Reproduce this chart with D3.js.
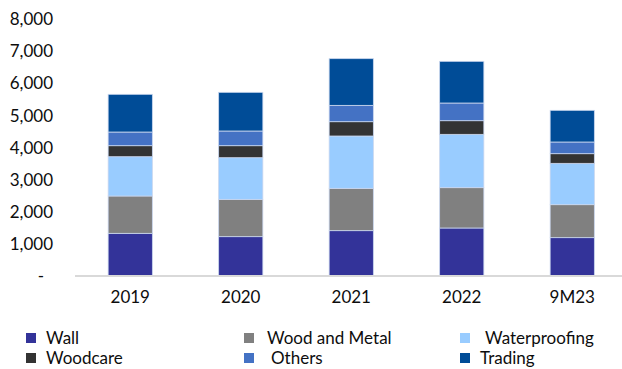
<!DOCTYPE html>
<html>
<head>
<meta charset="utf-8">
<script src="https://cdn.jsdelivr.net/npm/d3@7"></script>
<style>
  html, body { margin: 0; padding: 0; background: #fff; }
  svg { display: block; }
  text { font-family: "Lato", "Open Sans", sans-serif; fill: #0d0d0d; }
</style>
</head>
<body>
<svg id="chart" width="622" height="369"></svg>
<script>
const categories = ["2019", "2020", "2021", "2022", "9M23"];
const seriesNames = ["Wall", "Wood and Metal", "Waterproofing", "Woodcare", "Others", "Trading"];
const wall          = [1330, 1226, 1413, 1496, 1195];
const woodAndMetal  = [1163, 1163, 1319, 1257, 1028];
const waterproofing = [1225, 1298, 1631, 1662, 1288];
const woodcare      = [343, 374, 446, 425, 301];
const others        = [426, 458, 509, 551, 364];
const trading       = [1175, 1205, 1455, 1299, 987];
const yTicks = [0, 1000, 2000, 3000, 4000, 5000, 6000, 7000, 8000];
const colors = ["#333399", "#808080", "#99ccff", "#333333", "#4472c4", "#004c97"];

const seriesValues = [wall, woodAndMetal, waterproofing, woodcare, others, trading];
const rows = categories.map((c, i) => {
  const r = { cat: c };
  seriesNames.forEach((s, j) => r[s] = seriesValues[j][i]);
  return r;
});

const svg = d3.select("#chart");
const x = d3.scaleBand().domain(categories).range([75, 627.5]).paddingInner(0.6).paddingOuter(0.3);
const y = d3.scaleLinear().domain([0, 8000]).range([276, 19.3]);

const stacked = d3.stack().keys(seriesNames)(rows);

// y axis labels
const yAxis = d3.axisLeft(y).tickValues(yTicks).tickSize(0).tickPadding(0)
  .tickFormat(d => d === 0 ? "-" : d3.format(",")(d));
const yg = svg.append("g").attr("transform", "translate(53,0)").call(yAxis);
yg.select(".domain").remove();
yg.selectAll("text").style("font-size", "17px").attr("fill", "#0d0d0d")
  .attr("x", d => d === 0 ? -9 : 0);

// bars
svg.append("g").selectAll("g").data(stacked).join("g")
  .attr("fill", (d, i) => colors[i])
  .selectAll("rect").data(d => d).join("rect")
  .attr("x", d => x(d.data.cat))
  .attr("width", x.bandwidth())
  .attr("y", d => y(d[1]))
  .attr("height", d => y(d[0]) - y(d[1]))
  .attr("stroke", "#c9d6ee")
  .attr("stroke-width", 0.8);

// x axis
const xAxis = d3.axisBottom(x).tickSize(0).tickPadding(15);
const xg = svg.append("g").attr("transform", `translate(0,${y(0)})`).call(xAxis);
xg.select(".domain").attr("stroke", "#d9d9d9").attr("stroke-width", 2)
  .attr("d", "M75,0H622");
xg.selectAll("text").style("font-size", "17px").attr("fill", "#0d0d0d");

// legend
const legendPos = [
  [26, 333], [244, 333], [460, 333],
  [26, 353], [244, 353], [460, 353]
];
const textOffset = [20, 23, 25, 20, 27, 20];
const lg = svg.append("g");
seriesNames.forEach((s, i) => {
  const [lx, ly] = legendPos[i];
  lg.append("rect").attr("x", lx).attr("y", ly).attr("width", 10).attr("height", 10).attr("fill", colors[i]);
  lg.append("text").attr("x", lx + textOffset[i]).attr("y", ly + 5).attr("dy", "0.35em")
    .style("font-size", "17px").text(s);
});
</script>
</body>
</html>
